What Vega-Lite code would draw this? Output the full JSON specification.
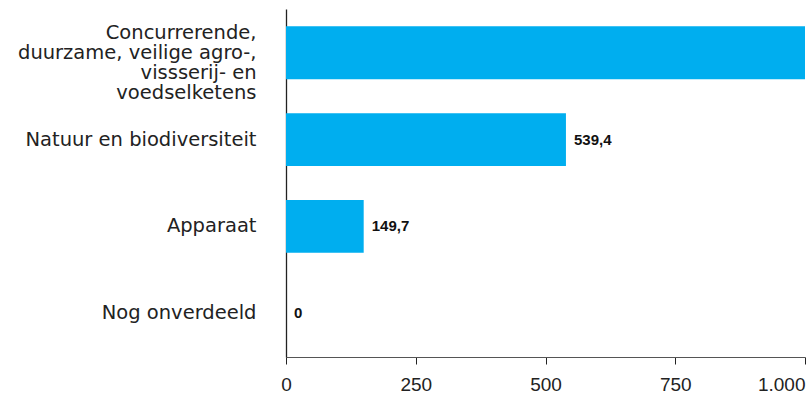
{
  "$schema": "https://vega.github.io/schema/vega-lite/v6.json",
  "width": 519,
  "height": 348,
  "autosize": {"type": "none"},
  "padding": {"left": 286, "top": 9, "right": 1, "bottom": 43},
  "background": "white",
  "config": {
    "view": {"stroke": null},
    "font": "Liberation Sans",
    "locale": {"number": {"decimal": ",", "thousands": ".", "grouping": [3], "currency": ["€", ""]}}
  },
  "data": {
    "values": [
      {"categorie": "Concurrerende,|duurzame, veilige agro-,|vissserij- en|voedselketens", "waarde": 1250.0},
      {"categorie": "Natuur en biodiversiteit", "waarde": 539.4},
      {"categorie": "Apparaat", "waarde": 149.7},
      {"categorie": "Nog onverdeeld", "waarde": 0}
    ]
  },
  "transform": [
    {"calculate": "datum.waarde > 1000 ? '' : (datum.waarde == 0 ? '0' : format(datum.waarde, ',.1f'))", "as": "tekst"}
  ],
  "encoding": {
    "y": {
      "field": "categorie", "type": "nominal", "sort": null,
      "scale": {"paddingInner": 0.39, "paddingOuter": 0.2},
      "axis": {
        "title": null, "ticks": false, "domainColor": "#222222", "domainWidth": 1.3,
        "labelExpr": "split(datum.label, '|')",
        "labelFont": "DejaVu Sans",
        "labelFontSize": 19.5, "labelColor": "#222222", "labelPadding": 30,
        "labelLineHeight": 20, "labelLimit": 300,
        "labelOffset": {"condition": {"test": "indexof(datum.label, '|') >= 0", "value": -20}, "value": 0}
      }
    }
  },
  "layer": [
    {
      "mark": {"type": "bar", "color": "#00AEEF", "clip": true},
      "encoding": {
        "x": {
          "field": "waarde", "type": "quantitative",
          "scale": {"domain": [0, 1000], "nice": false},
          "axis": {
            "title": null, "grid": false, "values": [0, 250, 500, 750, 1000], "format": ",d",
            "domainColor": "#555555", "tickColor": "#222222", "tickSize": 7,
            "labelFontSize": 19, "labelColor": "#222222", "labelPadding": 11,
            "labelFlush": false,
            "labelAlign": {"condition": {"test": "datum.value == 1000", "value": "right"}, "value": "center"}
          }
        }
      }
    },
    {
      "mark": {"type": "text", "align": "left", "dx": 8, "fontSize": 15, "fontWeight": "bold", "color": "#111111", "clip": true},
      "encoding": {
        "x": {"field": "waarde", "type": "quantitative"},
        "text": {"field": "tekst"}
      }
    }
  ]
}
